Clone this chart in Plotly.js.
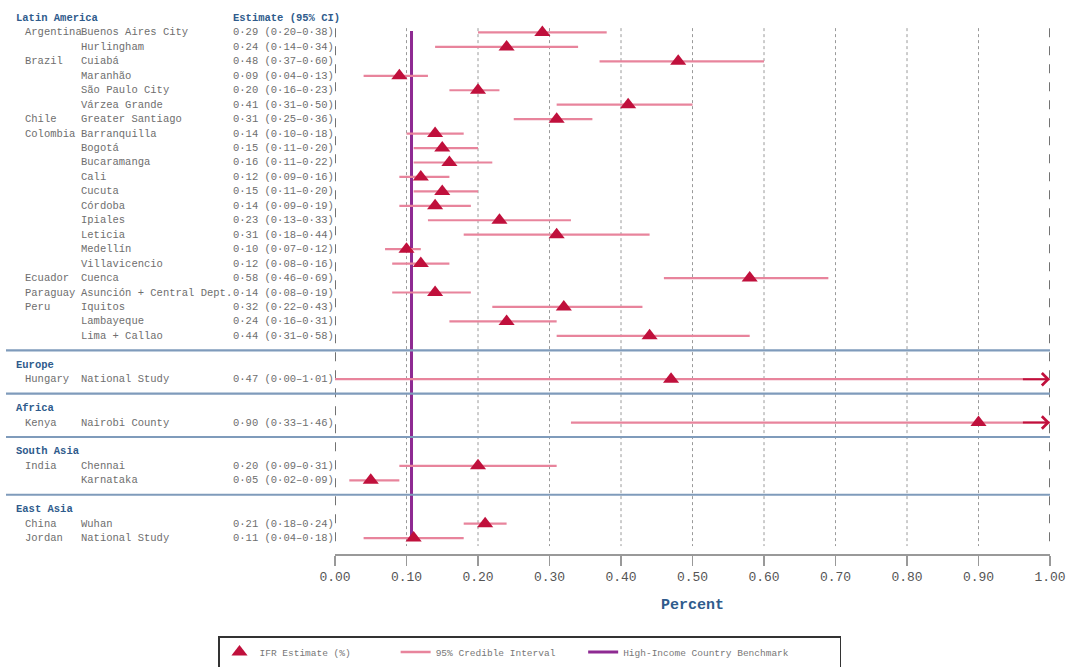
<!DOCTYPE html>
<html>
<head>
<meta charset="utf-8">
<script src="https://cdn.plot.ly/plotly-3.0.1.min.js"></script>
<style>html,body{margin:0;padding:0;background:#fff;}#chart{width:1070px;height:667px;}</style>
</head>
<body>
<div id="chart"></div>
<script>
// ---- data ----
const regions = ['Latin America','Latin America','Latin America','Latin America','Latin America','Latin America','Latin America',
  'Latin America','Latin America','Latin America','Latin America','Latin America','Latin America','Latin America','Latin America','Latin America','Latin America',
  'Latin America','Latin America','Latin America','Latin America','Latin America',
  'Europe','Africa','South Asia','South Asia','East Asia','East Asia'];
const countries = ['Argentina','','Brazil','','','','Chile',
  'Colombia','','','','','','','','','',
  'Ecuador','Paraguay','Peru','','',
  'Hungary','Kenya','India','','China','Jordan'];
const sites = ['Buenos Aires City','Hurlingham','Cuiabá','Maranhão','São Paulo City','Várzea Grande','Greater Santiago',
  'Barranquilla','Bogotá','Bucaramanga','Cali','Cucuta','Córdoba','Ipiales','Leticia','Medellín','Villavicencio',
  'Cuenca','Asunción + Central Dept.','Iquitos','Lambayeque','Lima + Callao',
  'National Study','Nairobi County','Chennai','Karnataka','Wuhan','National Study'];
const estimate = [0.29,0.24,0.48,0.09,0.20,0.41,0.31,
  0.14,0.15,0.16,0.12,0.15,0.14,0.23,0.31,0.10,0.12,
  0.58,0.14,0.32,0.24,0.44,
  0.47,0.90,0.20,0.05,0.21,0.11];
const lower = [0.20,0.14,0.37,0.04,0.16,0.31,0.25,
  0.10,0.11,0.11,0.09,0.11,0.09,0.13,0.18,0.07,0.08,
  0.46,0.08,0.22,0.16,0.31,
  0.00,0.33,0.09,0.02,0.18,0.04];
const upper = [0.38,0.34,0.60,0.13,0.23,0.50,0.36,
  0.18,0.20,0.22,0.16,0.20,0.19,0.33,0.44,0.12,0.16,
  0.69,0.19,0.43,0.31,0.58,
  1.01,1.46,0.31,0.09,0.24,0.18];
const benchmark = 0.107;
const tickVals = [0,0.1,0.2,0.3,0.4,0.5,0.6,0.7,0.8,0.9,1.0];
const legendNames = ['IFR Estimate (%)','95% Credible Interval','High-Income Country Benchmark'];

// ---- styles ----
const FONT = 'Liberation Mono, Courier New, monospace';
const HEAD = '#2f5b8c';
const TXT = '#6e6e6e';
const RED = '#c0103c';
const PINK = '#e8849c';
const PURPLE = '#8e2a92';
const L = 335, PW = 715, PH = 550, PB = 554;
const px = v => (v - L) / PW; // pixel -> paper x
const pad = (s, n) => s + '\u00a0'.repeat(n);

// ---- row layout ----
let idx = 0, prev = null;
const rowY = [], headers = [], seps = [];
regions.forEach((r, i) => {
  if (r !== prev) {
    if (prev !== null) { seps.push(idx); idx++; }
    headers.push({name: r, y: idx}); idx++;
    prev = r;
  }
  rowY.push(idx); idx++;
});
const lastRow = idx - 1;

const fmt = v => v.toFixed(2).replace('.', '·');
const labels = estimate.map((e, i) => fmt(e) + ' (' + fmt(lower[i]) + '–' + fmt(upper[i]) + ')');

const annotations = [];
headers.forEach(h => annotations.push({xref:'paper', yref:'y', x:px(14), y:h.y, xanchor:'left', yanchor:'middle',
  text:'<b>'+h.name+'</b>', showarrow:false, font:{family:FONT, size:10.5, color:HEAD}}));
annotations.push({xref:'paper', yref:'y', x:px(231), y:0, xanchor:'left', yanchor:'middle',
  text:'<b>Estimate (95% CI)</b>', showarrow:false, font:{family:FONT, size:10.5, color:HEAD}});
sites.forEach((s, i) => {
  if (countries[i]) annotations.push({xref:'paper', yref:'y', x:px(23), y:rowY[i], xanchor:'left', yanchor:'middle',
    text:countries[i], showarrow:false, font:{family:FONT, size:10.5, color:TXT}});
  annotations.push({xref:'paper', yref:'y', x:px(79), y:rowY[i], xanchor:'left', yanchor:'middle',
    text:s, showarrow:false, font:{family:FONT, size:10.5, color:TXT}});
  annotations.push({xref:'paper', yref:'y', x:px(231), y:rowY[i], xanchor:'left', yanchor:'middle',
    text:labels[i], showarrow:false, font:{family:FONT, size:10.5, color:TXT}});
  if (upper[i] > 1) annotations.push({xref:'x', yref:'y', axref:'x', ayref:'y', x:1, y:rowY[i], ax:0.96, ay:rowY[i],
    text:'', showarrow:true, arrowhead:4, arrowsize:1.2, arrowwidth:2, arrowcolor:RED, standoff:0});
});

const shapes = [];
tickVals.forEach(v => {
  const edge = (v === 0 || v === 1);
  shapes.push({type:'line', layer:'below', xref:'x', yref:'y', x0:v, x1:v, y0:0.7, y1:lastRow + 0.55,
    line:{color: edge ? '#444' : '#9a9a9a', width: edge ? 1.5 : 1, dash: edge ? 'dash' : 'dot'}});
});
seps.forEach(s => shapes.push({type:'line', layer:'above', xref:'paper', yref:'y', x0:px(6), x1:1, y0:s, y1:s,
  line:{color:'#7f9bbb', width:2.2}}));

const traces = [
  {type:'scatter', mode:'lines', x:[benchmark, benchmark], y:[rowY[0] - 0.1, lastRow], name:pad(legendNames[2], 8),
   line:{color:PURPLE, width:3}, legendrank:3, hoverinfo:'skip'},
  {type:'scatter', mode:'lines', x:[null], y:[null], name:pad(legendNames[1], 4),
   line:{color:PINK, width:2.5}, legendrank:2},
  {type:'scatter', mode:'markers', x:estimate, y:rowY, name:pad(legendNames[0], 7), legendrank:1,
   marker:{symbol:'triangle-up', size:14, color:RED},
   error_x:{type:'data', symmetric:false,
     array: estimate.map((e, i) => Math.min(upper[i], 1) - e),
     arrayminus: estimate.map((e, i) => e - lower[i]),
     color:PINK, thickness:2.2, width:0}}
];

const layout = {
  width:1070, height:667,
  margin:{l:L, r:20, t:4, b:113, autoexpand:false},
  paper_bgcolor:'#fff', plot_bgcolor:'#fff',
  font:{family:FONT, color:'#555'},
  showlegend:true,
  legend:{orientation:'h', x:px(218), xanchor:'left', y:-(636-PB)/PH, yanchor:'top',
    bordercolor:'#333', borderwidth:1.5, bgcolor:'#fff',
    font:{family:FONT, size:9.5, color:'#777'}},
  xaxis:{range:[0,1], tickvals:tickVals, tickformat:'.2f', showgrid:false, zeroline:false,
    showline:true, linecolor:'#999', linewidth:1.5, ticks:'outside', ticklen:10, tickcolor:'#999', tickwidth:1.5,
    tickfont:{family:FONT, size:13, color:'#555'},
    title:{text:'<b>Percent</b>', font:{family:FONT, size:15, color:HEAD}, standoff:14}, fixedrange:true},
  yaxis:{range:[lastRow + 1.1, -0.97], autorange:false, visible:false, showgrid:false, zeroline:false, fixedrange:true},
  shapes:shapes,
  annotations:annotations
};

Plotly.newPlot('chart', traces, layout, {displayModeBar:false, staticPlot:true});
</script>
</body>
</html>
